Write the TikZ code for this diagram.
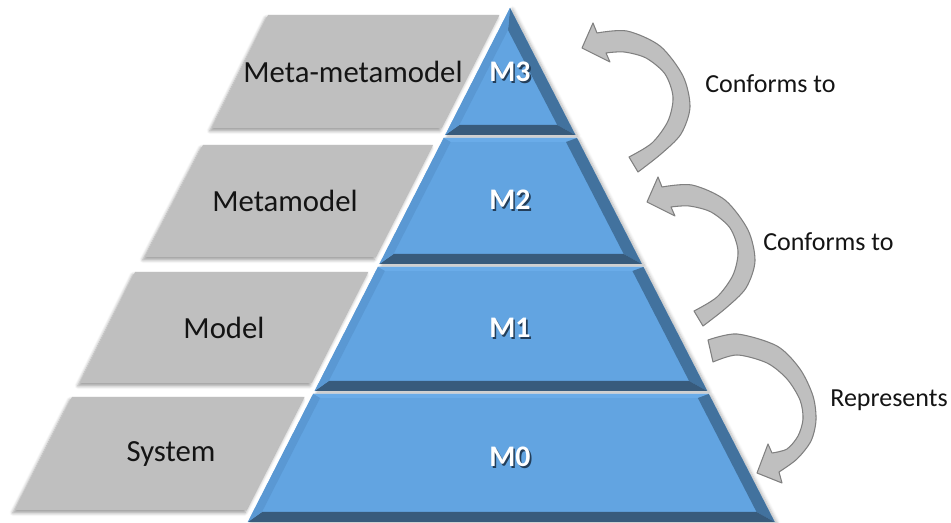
\documentclass[tikz,border=0pt]{standalone}
\usepackage{fontspec}
\setmainfont{Carlito}
\usetikzlibrary{shadows.blur}

\definecolor{face}{RGB}{98,164,225}
\definecolor{bevtop}{RGB}{106,172,233}
\definecolor{bevleft}{RGB}{90,152,211}
\definecolor{bevright}{RGB}{66,114,158}
\definecolor{bevbot}{RGB}{56,91,124}
\definecolor{slab}{RGB}{191,191,191}
\definecolor{curlline}{RGB}{128,128,128}
\definecolor{labshade}{RGB}{35,62,90}

\newcommand\raisedtext[1]{\makebox[0pt][l]{\kern.9pt\raisebox{-1.1pt}{\color{labshade}#1}}#1}

\tikzset{
  levelbox/.style={fill=slab, blur shadow={shadow xshift=-1.2pt, shadow yshift=-1.6pt, shadow blur steps=6, shadow opacity=40}},
  levelname/.style={anchor=base, text=black!92, font=\fontsize{17.5}{21}\selectfont},
  layer/.style={fill=face, blur shadow={shadow xshift=1.4pt, shadow yshift=-.6pt, shadow blur steps=5, shadow opacity=30}},
  layername/.style={anchor=base, text=white, font=\bfseries\fontsize{17}{20}\selectfont},
  curlarrow/.style={fill=slab, draw=curlline, line width=.6pt, line join=round},
  relname/.style={anchor=base west, inner sep=0pt, text=black!92, font=\fontsize{14.8}{18}\selectfont}
}

\begin{document}
\begin{tikzpicture}[x=.02cm, y=-.02cm,
  declare function={xl(\h)=510-0.51*(\h-8); xr(\h)=510+0.515*(\h-8);}]
\useasboundingbox (0,0) rectangle (951,523);

\foreach \yt/\yb/\xa/\xb/\tx/\ty/\txt/\nm in {15/128/268/212/353/83/Meta-metamodel/mmm,
    145/257/203/145/285/212/Metamodel/mm, 272/383/135/80/224/339/Model/md, 397/510/72/15/171/462/System/sys} {
  \fill[levelbox] (\xa,\yt) -- ({xl(\yt)-7},\yt) -- ({xl(\yb)-7},\yb) -- (\xb,\yb) -- cycle;
  \node[levelname] (\nm) at (\tx,\ty) {\txt};
}

% top layer
\coordinate (apex) at (510,8);
\coordinate (iapex) at (508,30);
\coordinate (bl) at ({xl(135)},135);
\coordinate (br) at ({xr(135)},135);
\coordinate (ibl) at ({xl(125)+9},125);
\coordinate (ibr) at ({xr(125)-13},125);
\fill[layer] (apex) -- (br) -- (bl) -- cycle;
\fill[bevright] (apex) -- (br) -- (ibr) -- (iapex) -- cycle;
\fill[bevbot] (bl) -- (br) -- (ibr) -- (ibl) -- cycle;
\fill[bevleft] (apex) -- (bl) -- (ibl) -- (iapex) -- cycle;
\node[layername] (mthree) at (510,82) {\raisedtext{M3}};

\foreach \yt/\yb/\lab/\nm in {138/264/M2/mtwo, 267/391/M1/mone, 394/522/M0/mzero} {
  \coordinate (tl) at ({xl(\yt)},\yt);
  \coordinate (tr) at ({xr(\yt)},\yt);
  \coordinate (br) at ({xr(\yb)},\yb);
  \coordinate (bl) at ({xl(\yb)},\yb);
  \coordinate (itl) at ({xl(\yt+4)+9},\yt+4);
  \coordinate (itr) at ({xr(\yt+4)-13},\yt+4);
  \coordinate (ibr) at ({xr(\yb-10)-13},\yb-10);
  \coordinate (ibl) at ({xl(\yb-10)+9},\yb-10);
  \fill[layer] (tl) -- (tr) -- (br) -- (bl) -- cycle;
  \fill[bevtop] (tl) -- (tr) -- (itr) -- (itl) -- cycle;
  \fill[bevright] (tr) -- (br) -- (ibr) -- (itr) -- cycle;
  \fill[bevbot] (bl) -- (br) -- (ibr) -- (ibl) -- cycle;
  \fill[bevleft] (tl) -- (bl) -- (ibl) -- (itl) -- cycle;
  \node[layername] (\nm) at (510,{(\yt+\yb)/2+9}) {\raisedtext{\lab}};
}

% curved arrows
\foreach \sx/\sy in {582/48, 647/202}
  \draw[curlarrow, shift={(\sx,\sy)}] (0,0) -- (11,-25)
    -- plot[smooth] coordinates {(15,-15) (45,-17) (78,-2) (101,28) (108,59) (99,86) (79,106) (56,124)}
    -- plot[smooth] coordinates {(47,109) (70,95) (86,73) (91,49) (83,26) (64,10) (42,4) (24,5)}
    -- (28,14) -- cycle;
\draw[curlarrow] (757,473) -- (768,444)
  -- plot[smooth] coordinates {(772,453) (787,449) (798,436) (803,419) (800,400) (787,379) (767,363) (737,355) (713,362)}
  -- plot[smooth] coordinates {(708,340) (737,334) (777,346) (800,369) (813,396) (816,420) (811,441) (797,459) (779,472)}
  -- (782,483) -- cycle;

\node[relname] (conf3) at (705,93) {Conforms to};
\node[relname] (conf2) at (763,251) {Conforms to};
\node[relname] (repr) at (830,407) {Represents};
\end{tikzpicture}
\end{document}
